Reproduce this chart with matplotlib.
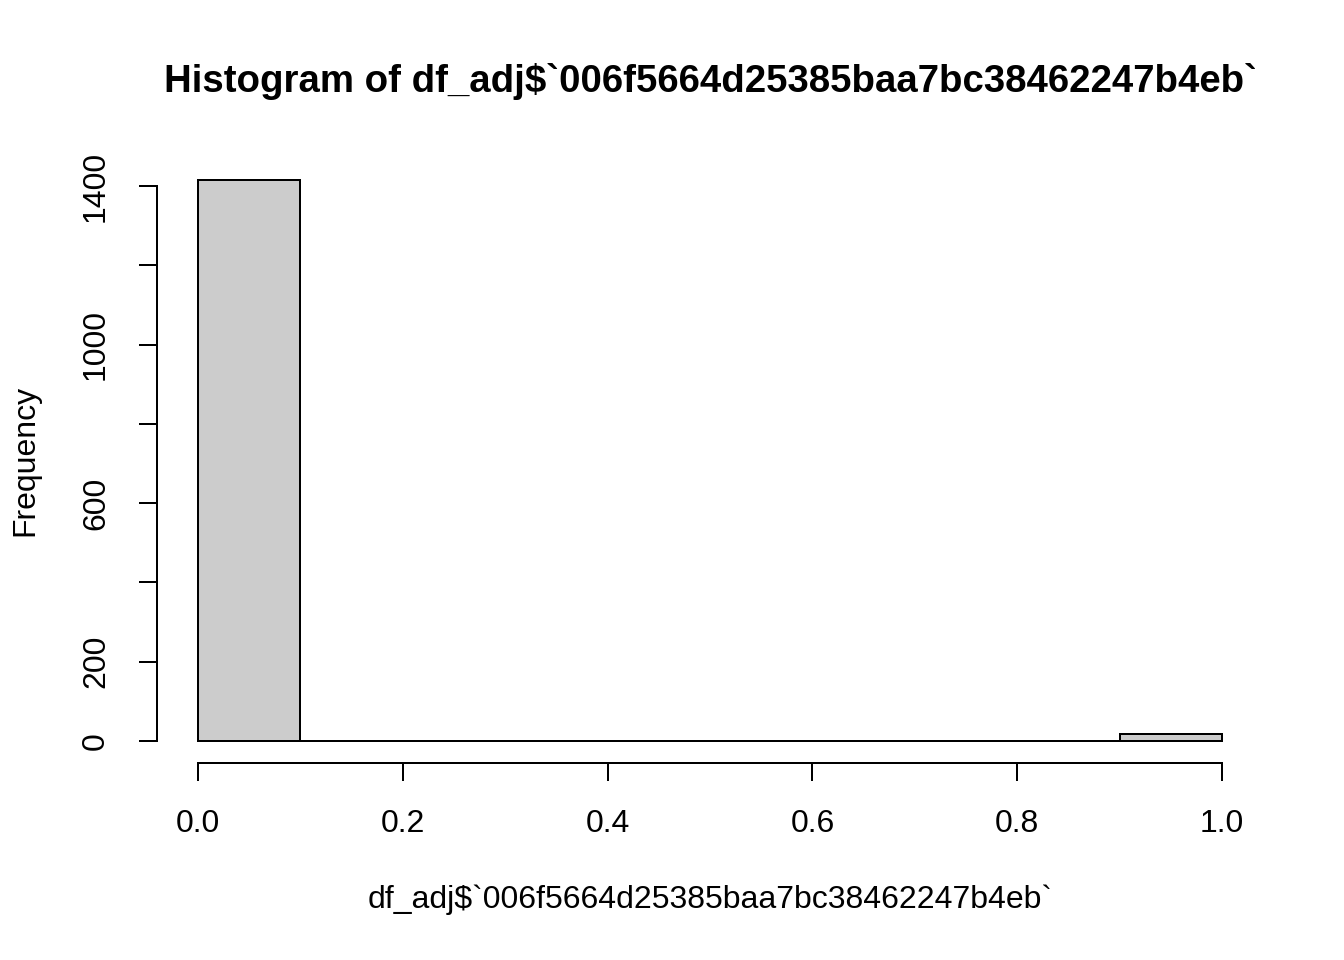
import matplotlib
matplotlib.use("Agg")
import matplotlib.pyplot as plt
import numpy as np

plt.rcParams['font.family'] = ['Liberation Sans', 'DejaVu Sans']

bin_edges = [0.0, 0.1, 0.2, 0.3, 0.4, 0.5, 0.6, 0.7, 0.8, 0.9, 1.0]
counts = [1415, 0, 0, 0, 0, 0, 0, 0, 0, 18]
x_ticks = [0.0, 0.2, 0.4, 0.6, 0.8, 1.0]
x_tick_labels = ["0.0", "0.2", "0.4", "0.6", "0.8", "1.0"]
y_ticks = [0, 200, 400, 600, 800, 1000, 1200, 1400]
y_tick_labels = ["0", "", "200", "", "600", "", "1000", "", "1400"]
y_tick_labels = ["0", "", "", "", "", "", "", ""]
y_label_map = {0: "0", 200: "200", 600: "600", 1000: "1000", 1400: "1400"}
title = "Histogram of df_adj$`006f5664d25385baa7bc38462247b4eb`"
xlabel = "df_adj$`006f5664d25385baa7bc38462247b4eb`"
ylabel = "Frequency"

W, H = 1344, 960
fig = plt.figure(figsize=(7, 5), dpi=192)
ax = fig.add_axes([157/W, 1-763.4/H, (1263-157)/W, (763.4-157.6)/H])

lefts = bin_edges[:-1]
widths = np.diff(bin_edges)
ax.bar(lefts, counts, width=widths, align='edge', color='#CCCCCC',
       edgecolor='black', linewidth=0.75)

ymax = max(counts)
ax.set_xlim(-0.04, 1.04)
ax.set_ylim(-0.04*ymax, ymax*1.04)

for s in ['top', 'right']:
    ax.spines[s].set_visible(False)
ax.spines['left'].set_bounds(0, 1400)
ax.spines['bottom'].set_bounds(0, 1)
ax.spines['left'].set_linewidth(0.75)
ax.spines['bottom'].set_linewidth(0.75)

ax.set_xticks(x_ticks)
ax.set_xticklabels(x_tick_labels, fontsize=12)
ax.set_yticks(y_ticks)
ax.set_yticklabels([y_label_map.get(v, "") for v in y_ticks], fontsize=12,
                   rotation=90, va='center')
ax.tick_params(axis='both', length=6.75, width=0.75, direction='out')
ax.tick_params(axis='x', pad=10.5)
ax.tick_params(axis='y', pad=10.5)

fig.text(710/W, 1-82/H, title, ha='center', va='center', fontsize=14.4,
         fontweight='bold')
fig.text(710/W, 1-900/H, xlabel, ha='center', va='center', fontsize=12)
fig.text(25/W, 1-460/H, ylabel, ha='center', va='center', fontsize=12,
         rotation=90)

fig.savefig("out.png", dpi=192)
